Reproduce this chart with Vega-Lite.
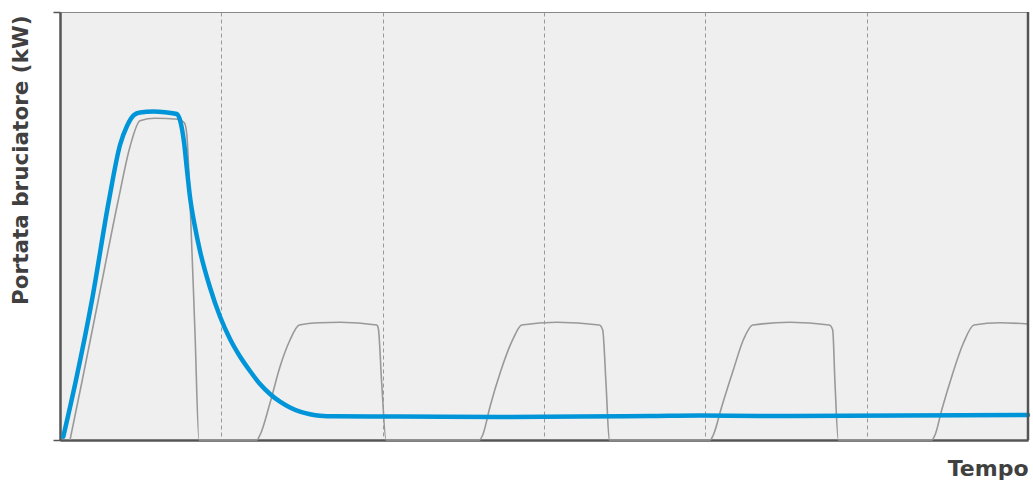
{
  "$schema": "https://vega.github.io/schema/vega-lite/v6.json",
  "autosize": {"type": "none"},
  "padding": {"left": 60, "top": 12, "right": 5, "bottom": 41},
  "width": 968,
  "height": 428,
  "background": "white",
  "config": {
    "view": {"fill": "#efefef", "stroke": "#888", "strokeWidth": 1}
  },
  "datasets": {
    "blue": [
      {"t": 3.3, "p": 3.3}, {"t": 16, "p": 60}, {"t": 32, "p": 140}, {"t": 49, "p": 240},
      {"t": 60, "p": 295}, {"t": 67, "p": 314}, {"t": 74, "p": 325}, {"t": 80, "p": 327.5},
      {"t": 93.3, "p": 328.5}, {"t": 105, "p": 327.8},
      {"t": 116.7, "p": 326}, {"t": 120.5, "p": 318}, {"t": 124, "p": 298},
      {"t": 127, "p": 270}, {"t": 130, "p": 243}, {"t": 135, "p": 213}, {"t": 140, "p": 189},
      {"t": 150, "p": 152.5}, {"t": 160, "p": 123.5}, {"t": 170, "p": 101}, {"t": 180, "p": 83.5},
      {"t": 190, "p": 69}, {"t": 200, "p": 56}, {"t": 210, "p": 46}, {"t": 220, "p": 38.3},
      {"t": 230, "p": 32.5}, {"t": 240, "p": 28.3}, {"t": 250, "p": 25.8}, {"t": 260, "p": 24.3},
      {"t": 275, "p": 23.7}, {"t": 340, "p": 23.5}, {"t": 440, "p": 23}, {"t": 520, "p": 23.5},
      {"t": 590, "p": 24}, {"t": 640, "p": 24.5}, {"t": 700, "p": 24}, {"t": 840, "p": 24.5},
      {"t": 968, "p": 25}
    ],
    "gray": [
      {"t": 10, "p": 0}, {"t": 21.7, "p": 57}, {"t": 38.3, "p": 140}, {"t": 58.3, "p": 240},
      {"t": 70, "p": 293.3}, {"t": 80, "p": 319.3}, {"t": 95, "p": 321.7}, {"t": 118.3, "p": 320.7},
      {"t": 124.3, "p": 317.3}, {"t": 126.7, "p": 306.7}, {"t": 130, "p": 240}, {"t": 135, "p": 106.7},
      {"t": 139, "p": 0}, {"t": 196.7, "p": 0}, {"t": 200, "p": 5}, {"t": 210, "p": 37},
      {"t": 220, "p": 73.3}, {"t": 230, "p": 100}, {"t": 239.3, "p": 115}, {"t": 260, "p": 117.3},
      {"t": 280, "p": 117.7}, {"t": 316.7, "p": 115}, {"t": 318.3, "p": 111.7}, {"t": 321.7, "p": 57},
      {"t": 326, "p": 0}, {"t": 419.3, "p": 0}, {"t": 422.7, "p": 5}, {"t": 430, "p": 33.3},
      {"t": 440, "p": 66.7}, {"t": 453.3, "p": 101.7}, {"t": 461.7, "p": 115}, {"t": 496.7, "p": 117.7},
      {"t": 539.3, "p": 115}, {"t": 542.7, "p": 110}, {"t": 546, "p": 56.7}, {"t": 549.3, "p": 0},
      {"t": 650, "p": 0}, {"t": 653.3, "p": 5}, {"t": 661.7, "p": 33.3}, {"t": 673.3, "p": 70},
      {"t": 683.3, "p": 100}, {"t": 692.7, "p": 115}, {"t": 730, "p": 117.7}, {"t": 769.3, "p": 115},
      {"t": 772.7, "p": 110}, {"t": 775, "p": 56.7}, {"t": 778.3, "p": 0}, {"t": 871.7, "p": 0},
      {"t": 875, "p": 5}, {"t": 881.7, "p": 30}, {"t": 891.7, "p": 63.3}, {"t": 903.3, "p": 96.7},
      {"t": 914, "p": 115}, {"t": 940, "p": 117.3}, {"t": 968, "p": 116}
    ],
    "edge": [{"t": 968}]
  },
  "encoding": {
    "x": {
      "field": "t", "type": "quantitative",
      "scale": {"domain": [0, 968], "nice": false, "zero": false},
      "axis": {
        "title": "Tempo", "titleFont": "DejaVu Sans", "titleFontSize": 22, "titleFontWeight": "bold",
        "titleColor": "#404040", "titleAlign": "right", "titleAnchor": null,
        "titleX": 968, "titleY": 35, "titleBaseline": "alphabetic",
        "values": [161.3, 322.7, 484, 645.3, 806.7],
        "labels": false, "ticks": false,
        "grid": true, "gridDash": [4, 3], "gridColor": "#999", "gridWidth": 1, "gridOpacity": 1,
        "domainColor": "#555", "domainWidth": 2.5
      }
    },
    "y": {
      "field": "p", "type": "quantitative",
      "scale": {"domain": [0, 428], "nice": false, "zero": false},
      "axis": {
        "title": "Portata bruciatore (kW)", "titleFont": "DejaVu Sans", "titleFontSize": 21.5, "titleFontWeight": "bold",
        "titleColor": "#404040", "titleAngle": -90, "titleAlign": "right", "titleAnchor": null,
        "titleX": -39, "titleY": 3, "titleBaseline": "middle",
        "values": [0, 428], "labels": false, "tickSize": 7, "tickColor": "#555", "tickWidth": 1.5,
        "grid": false, "domainColor": "#555", "domainWidth": 2.5
      }
    }
  },
  "layer": [
    {
      "data": {"name": "gray"},
      "mark": {"type": "line", "color": "#999", "strokeWidth": 1.6, "interpolate": "monotone"}
    },
    {
      "data": {"name": "blue"},
      "mark": {"type": "line", "color": "#0095d8", "strokeWidth": 4.5, "interpolate": "monotone", "strokeCap": "round"}
    },
    {
      "data": {"name": "edge"},
      "mark": {"type": "rule", "color": "#555", "strokeWidth": 2.5},
      "encoding": {"x": {"field": "t", "type": "quantitative"}, "y": null}
    }
  ]
}
